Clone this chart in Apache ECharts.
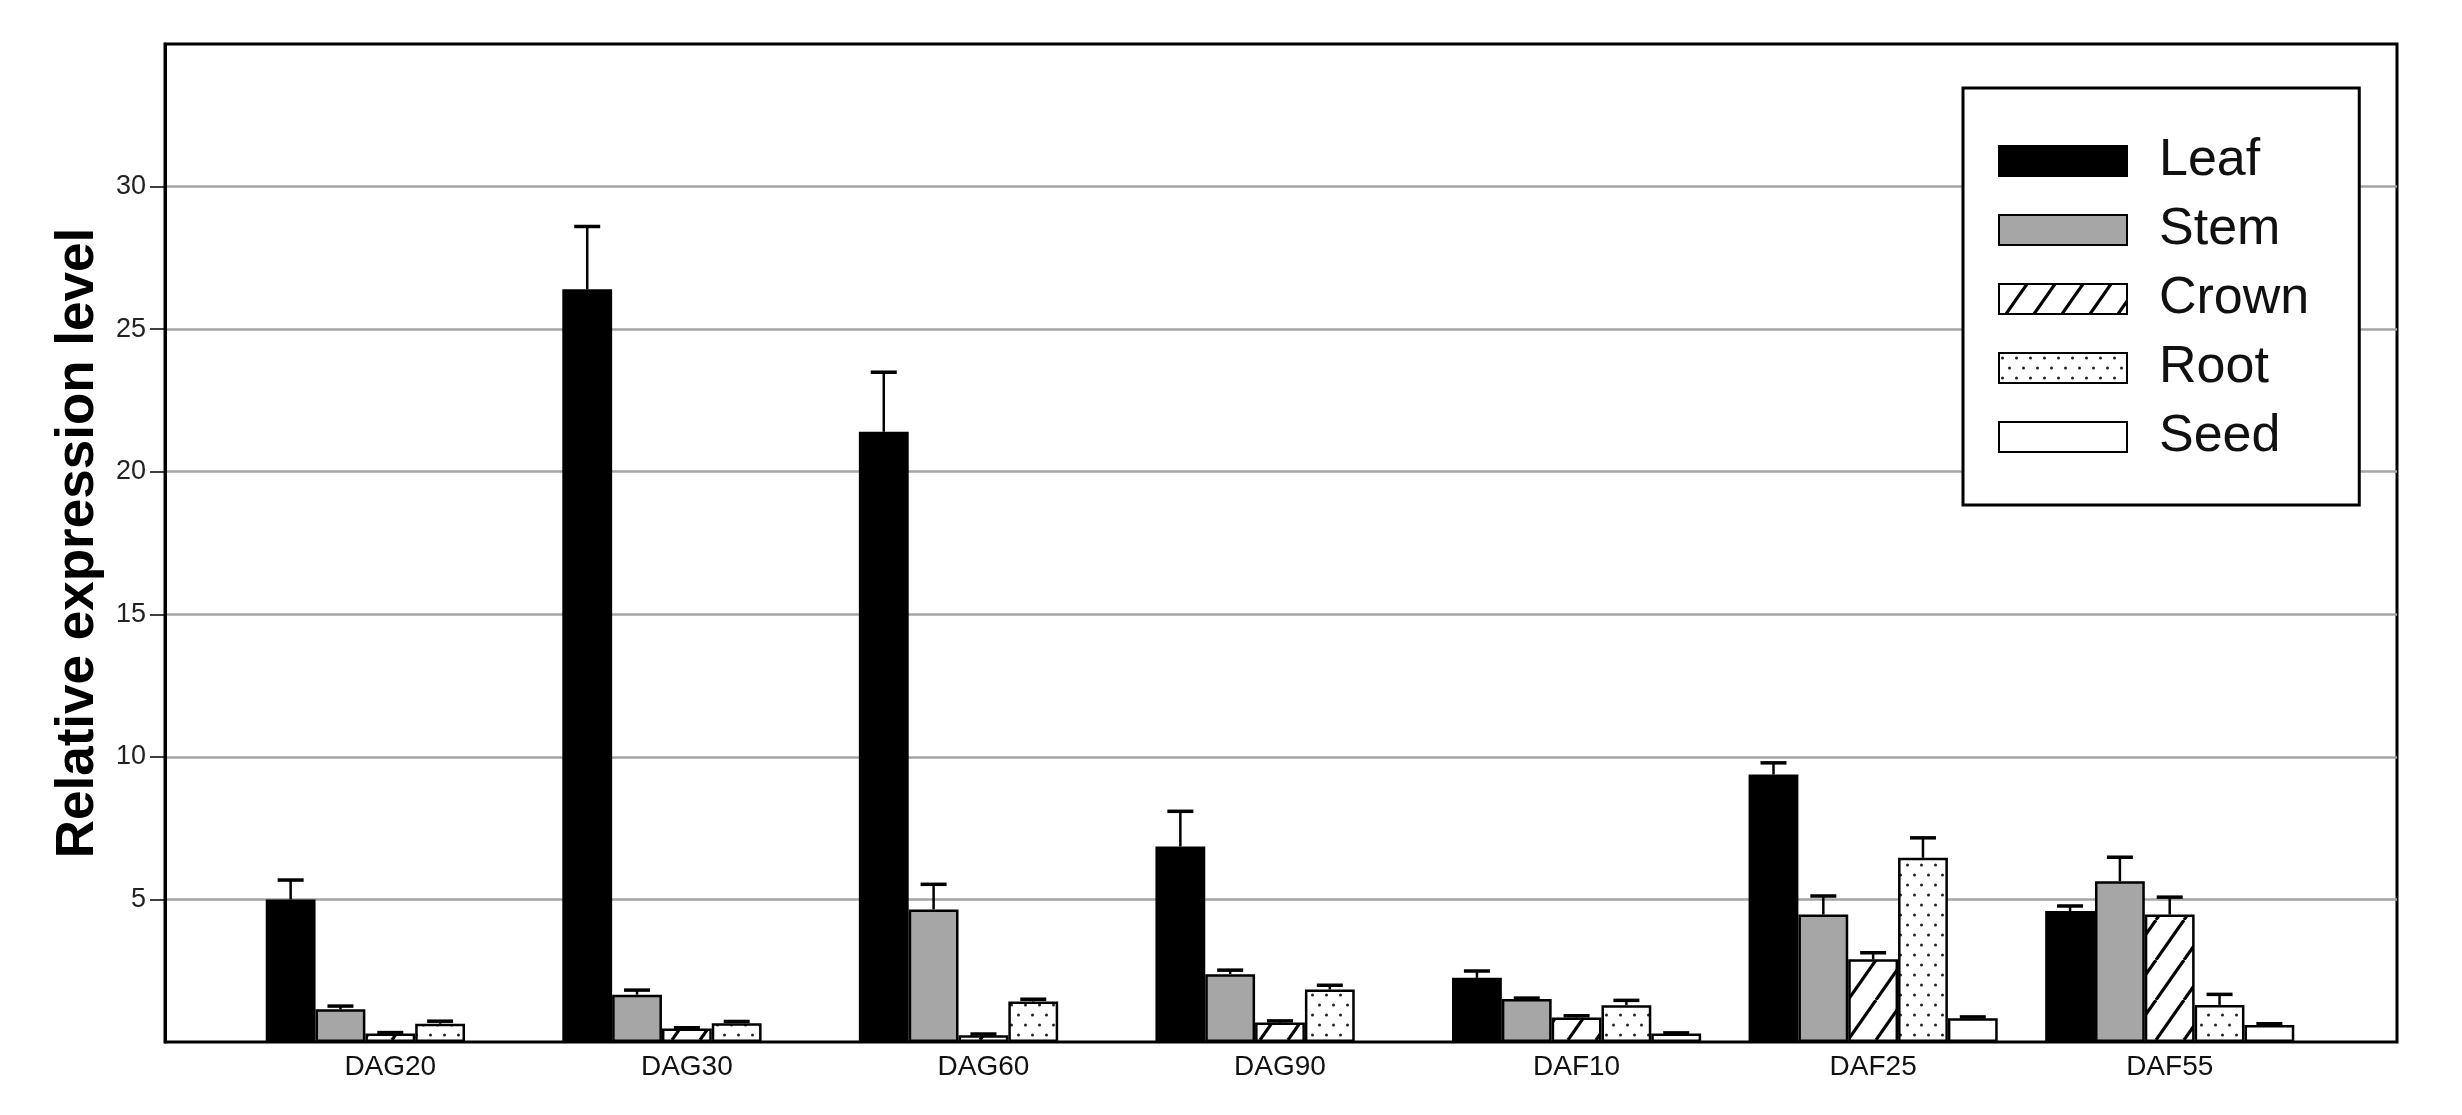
<!DOCTYPE html>
<html>
<head>
<meta charset="utf-8">
<style>
html,body{margin:0;padding:0;background:#fff;}
#chart{width:2462px;height:1115px;}
</style>
<script src="https://cdn.jsdelivr.net/npm/echarts@6/dist/echarts.min.js"></script>
</head>
<body>
<div id="chart"></div>
<script>
// ---- data ----
const categories = ['DAG20', 'DAG30', 'DAG60', 'DAG90', 'DAF10', 'DAF25', 'DAF55'];
const seriesNames = ['Leaf', 'Stem', 'Crown', 'Root', 'Seed'];
const leaf     = [5.00, 26.40, 21.40, 6.86, 2.25, 9.38, 4.59];
const leafErr  = [0.68, 2.20, 2.09, 1.23, 0.24, 0.41, 0.18];
const stem     = [1.15, 1.66, 4.65, 2.38, 1.51, 4.47, 5.64];
const stemErr  = [0.11, 0.16, 0.88, 0.14, 0.03, 0.65, 0.84];
const crown    = [0.30, 0.47, 0.24, 0.68, 0.86, 2.90, 4.47];
const crownErr = [0.03, 0.03, 0.04, 0.06, 0.06, 0.23, 0.61];
const root     = [0.64, 0.66, 1.42, 1.84, 1.29, 6.46, 1.30];
const rootErr  = [0.09, 0.06, 0.08, 0.15, 0.17, 0.70, 0.37];
const seed     = [null, null, null, null, 0.30, 0.83, 0.60];
const seedErr  = [null, null, null, null, 0.02, 0.05, 0.04];
const yTicks   = [5, 10, 15, 20, 25, 30];

// ---- patterns ----
function hatchCanvas() {
  const c = document.createElement('canvas');
  c.width = 28; c.height = 40;
  const g = c.getContext('2d');
  g.fillStyle = '#fff'; g.fillRect(0, 0, 28, 40);
  g.strokeStyle = '#000'; g.lineWidth = 3.2;
  [-28, 0, 28].forEach(function (dx) {
    g.beginPath(); g.moveTo(dx, 40); g.lineTo(dx + 28, 0); g.stroke();
  });
  return c;
}
function dotCanvas() {
  const c = document.createElement('canvas');
  c.width = 14; c.height = 20;
  const g = c.getContext('2d');
  g.fillStyle = '#fff'; g.fillRect(0, 0, 14, 20);
  g.fillStyle = '#222';
  g.beginPath(); g.arc(3.5, 5, 1.5, 0, Math.PI * 2); g.fill();
  g.beginPath(); g.arc(10.5, 15, 1.5, 0, Math.PI * 2); g.fill();
  return c;
}

const fills = [
  '#000000',
  '#a6a6a6',
  { image: hatchCanvas(), repeat: 'repeat' },
  { image: dotCanvas(), repeat: 'repeat' },
  '#ffffff'
];
const values = [leaf, stem, crown, root, seed];
const errors = [leafErr, stemErr, crownErr, rootErr, seedErr];
const GAP = 0.16;
const FONT = 'Liberation Sans, Arial, sans-serif';

const barSeries = seriesNames.map(function (name, k) {
  return {
    name: name,
    type: 'bar',
    xAxisIndex: 1,
    yAxisIndex: 1,
    barGap: '0%',
    barCategoryGap: (GAP * 100) + '%',
    data: values[k],
    itemStyle: { color: fills[k], borderColor: '#000', borderWidth: 2.5 },
    emphasis: { disabled: true },
    z: 3
  };
});

const errData = [];
errors.forEach(function (arr, k) {
  arr.forEach(function (e, i) {
    if (e !== null && values[k][i] !== null) errData.push([i, values[k][i], e, k]);
  });
});

function renderErr(params, api) {
  const cat = api.value(0), v = api.value(1), e = api.value(2), k = api.value(3);
  const band = api.size([1, 0])[0];
  const groupW = band * (1 - GAP);
  const bw = groupW / 5;
  const base = api.coord([cat, v]);
  const top = api.coord([cat, v + e]);
  const x = base[0] - groupW / 2 + (k + 0.5) * bw;
  const h = 13;
  return {
    type: 'group',
    children: [
      { type: 'line', shape: { x1: x, y1: base[1], x2: x, y2: top[1] }, style: { stroke: '#000', lineWidth: 2.5 } },
      { type: 'line', shape: { x1: x - h, y1: top[1], x2: x + h, y2: top[1] }, style: { stroke: '#000', lineWidth: 3.5 } }
    ]
  };
}

const chart = echarts.init(document.getElementById('chart'), null, { renderer: 'canvas' });
chart.setOption({
  backgroundColor: '#fff',
  animation: false,
  grid: [
    { left: 165, right: 65, top: 44, bottom: 73, show: true, borderColor: '#000', borderWidth: 3, backgroundColor: 'transparent' },
    { left: 242, right: 144, top: 44, bottom: 73 }
  ],
  legend: {
    orient: 'vertical',
    left: 1963, top: 88,
    padding: [47, 50, 42, 35],
    itemWidth: 128, itemHeight: 30, itemGap: 17,
    icon: 'rect',
    borderColor: '#000', borderWidth: 3,
    backgroundColor: '#fff',
    selectedMode: false,
    data: seriesNames,
    textStyle: { fontSize: 52, lineHeight: 52, fontFamily: FONT, color: '#111', padding: [0, 0, 0, 27] },
    z: 10
  },
  xAxis: [
    { type: 'value', gridIndex: 0, min: 0, max: 1, show: false },
    {
      type: 'category', gridIndex: 1, data: categories,
      axisLine: { show: false }, axisTick: { show: false },
      axisLabel: { fontSize: 28, fontFamily: FONT, color: '#111', margin: 11 }
    }
  ],
  yAxis: [
    {
      type: 'value', gridIndex: 0, min: 0, max: 35, interval: 5,
      name: 'Relative expression level',
      nameLocation: 'middle', nameGap: 58,
      nameTextStyle: { fontSize: 53, fontWeight: 'bold', fontFamily: FONT, color: '#000' },
      axisLine: { show: true, lineStyle: { color: '#000', width: 3 } },
      axisTick: { show: true, length: 15, customValues: yTicks, lineStyle: { color: '#000', width: 1.5 } },
      axisLabel: {
        fontSize: 27, fontFamily: FONT, color: '#222', margin: 19, customValues: yTicks,
        formatter: function (v) { return (v === 0 || v === 35) ? '' : String(v); }
      },
      splitLine: { show: true, lineStyle: { color: '#a5a5a5', width: 2.5 } }
    },
    { type: 'value', gridIndex: 1, min: 0, max: 35, show: false, splitLine: { show: false } }
  ],
  series: barSeries.concat([{
    name: 'error',
    type: 'custom',
    xAxisIndex: 1,
    yAxisIndex: 1,
    data: errData,
    renderItem: renderErr,
    z: 4,
    silent: true
  }])
});
</script>
</body>
</html>
